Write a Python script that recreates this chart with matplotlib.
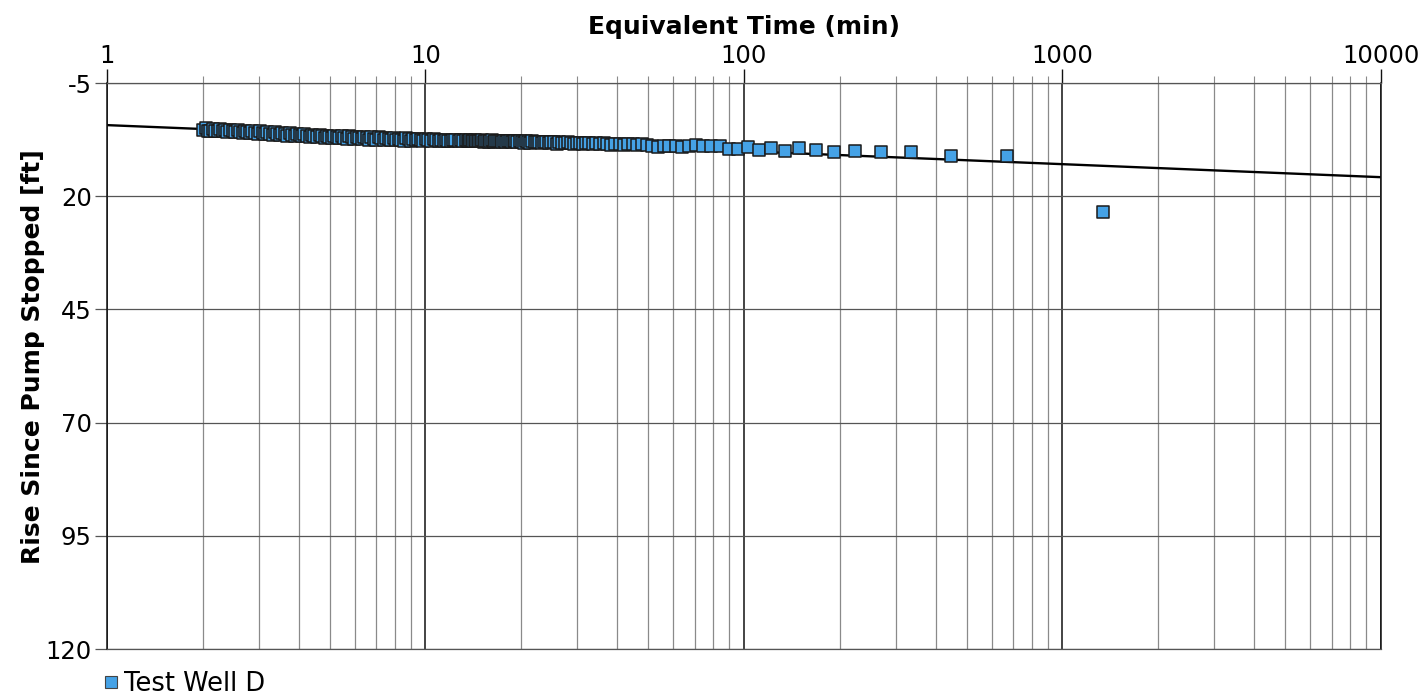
import matplotlib
matplotlib.use("Agg")
import matplotlib.pyplot as plt
from matplotlib.ticker import FixedLocator, LogLocator, NullFormatter, FixedFormatter
from matplotlib.lines import Line2D

# ---- data ----
x_title = "Equivalent Time (min)"
y_title = "Rise Since Pump Stopped [ft]"
series_name = "Test Well D"

x_ticks = [1, 10, 100, 1000, 10000]
x_tick_labels = ["1", "10", "100", "1000", "10000"]
y_ticks = [-5, 20, 45, 70, 95, 120]
y_tick_labels = ["-5", "20", "45", "70", "95", "120"]

# dense early part (te 2 .. 13)
time_early = [
    2.00, 2.04, 2.07, 2.11, 2.15, 2.19, 2.23, 2.27, 2.31, 2.35,
    2.39, 2.44, 2.48, 2.53, 2.57, 2.62, 2.67, 2.71, 2.76, 2.81,
    2.86, 2.92, 2.97, 3.02, 3.08, 3.13, 3.19, 3.25, 3.31, 3.37,
    3.43, 3.49, 3.55, 3.62, 3.68, 3.75, 3.82, 3.89, 3.96, 4.03,
    4.10, 4.17, 4.25, 4.33, 4.40, 4.48, 4.56, 4.65, 4.73, 4.82,
    4.90, 4.99, 5.08, 5.17, 5.27, 5.36, 5.46, 5.56, 5.66, 5.76,
    5.86, 5.97, 6.08, 6.19, 6.30, 6.41, 6.53, 6.64, 6.76, 6.89,
    7.01, 7.14, 7.27, 7.40, 7.53, 7.67, 7.81, 7.95, 8.09, 8.24,
    8.38, 8.54, 8.69, 8.85, 9.01, 9.17, 9.33, 9.50, 9.67, 9.85,
    10.02, 10.2, 10.4, 10.6, 10.8, 11.0, 11.2, 11.4, 11.6, 11.8,
    12.0, 12.2, 12.4, 12.7, 12.9, 13.1,
]
rise_early = [
    5.3, 5.0, 5.5, 5.6, 5.1, 5.6, 5.7, 5.2, 5.7, 5.4,
    5.8, 5.3, 5.7, 5.9, 5.4, 5.8, 6.0, 5.5, 5.9, 6.1,
    5.6, 6.0, 6.2, 5.7, 6.1, 6.3, 5.8, 6.2, 6.4, 5.9,
    6.2, 6.5, 6.0, 6.3, 6.6, 6.1, 6.4, 6.7, 6.2, 6.5,
    6.8, 6.3, 6.6, 6.9, 6.4, 6.7, 7.0, 6.5, 6.8, 7.1,
    6.6, 6.9, 7.2, 6.7, 7.0, 7.2, 6.8, 7.1, 7.3, 6.8,
    7.0, 7.4, 6.9, 7.1, 7.4, 6.9, 7.2, 7.5, 7.0, 7.3,
    7.5, 7.0, 7.2, 7.6, 7.1, 7.3, 7.6, 7.2, 7.5, 7.3,
    7.6, 7.7, 7.2, 7.4, 7.7, 7.3, 7.6, 7.4, 7.6, 7.8,
    7.4, 7.5, 7.7, 7.4, 7.6, 7.8, 7.5, 7.8, 7.5, 7.7,
    7.8, 7.5, 7.6, 7.8, 7.6, 7.7,
]

# later part (te 13.4 .. 1342)
time_late = [
    13.42, 13.56, 13.69, 13.84, 13.98, 14.13, 14.28, 14.43, 14.59, 14.75,
    14.91, 15.08, 15.25, 15.43, 15.60, 15.79, 15.98, 16.17, 16.37, 16.57,
    16.78, 16.99, 17.21, 17.43, 17.66, 17.89, 18.14, 18.38, 18.64, 18.90,
    19.17, 19.45, 19.74, 20.03, 20.33, 20.65, 20.97, 21.30, 21.65, 22.00,
    22.37, 22.75, 23.14, 23.54, 23.96, 24.40, 24.85, 25.32, 25.81, 26.31,
    26.84, 27.39, 27.96, 28.55, 29.17, 29.82, 30.50, 31.21, 31.95, 32.73,
    33.55, 34.41, 35.32, 36.27, 37.28, 38.34, 39.47, 40.67, 41.94, 43.29,
    44.73, 46.28, 47.93, 49.70, 51.62, 53.68, 55.92, 58.35, 61.00, 63.90,
    67.10, 70.63, 74.56, 78.94, 83.88, 89.47, 95.86, 103.2, 111.8, 122.0,
    134.2, 149.1, 167.8, 191.7, 223.7, 268.4, 335.5, 447.3, 671.0, 1342.0,
]
rise_late = [
    7.6, 7.8, 7.9, 7.5, 7.7, 7.9, 7.6, 7.7, 7.9, 7.7,
    7.8, 7.6, 8.0, 7.7, 7.8, 8.0, 7.8, 7.6, 8.0, 7.8,
    7.9, 7.8, 7.7, 8.0, 7.8, 8.1, 7.9, 7.8, 8.1, 7.9,
    7.8, 8.1, 7.9, 8.0, 8.2, 7.9, 8.0, 8.2, 7.9, 8.0,
    8.1, 8.0, 8.3, 8.0, 8.1, 8.3, 8.0, 8.1, 8.4, 8.1,
    8.2, 8.3, 8.1, 8.2, 8.4, 8.2, 8.3, 8.4, 8.2, 8.3,
    8.4, 8.3, 8.5, 8.3, 8.4, 8.6, 8.4, 8.5, 8.6, 8.5,
    8.5, 8.6, 8.5, 8.7, 8.85, 9.1, 8.9, 8.9, 9.0, 9.2,
    8.9, 8.7, 8.85, 9.0, 9.0, 9.6, 9.6, 9.2, 9.7, 9.35,
    9.95, 9.4, 9.7, 10.3, 10.1, 10.2, 10.3, 11.1, 11.1, 23.4,
]

# straight-line fit drawn through the data
fit_time = [1, 10000]
fit_rise = [4.3, 15.8]

# ---- figure ----
fig = plt.figure(figsize=(14.24, 6.94), dpi=100)
ax = fig.add_axes([0.0751, 0.0648, 0.8947, 0.8156])

ax.set_xscale("log")
ax.set_xlim(1, 10000)
ax.set_ylim(120, -5)

ax.xaxis.set_major_locator(FixedLocator(x_ticks))
ax.xaxis.set_major_formatter(FixedFormatter(x_tick_labels))
ax.xaxis.set_minor_locator(LogLocator(base=10, subs=range(2, 10), numticks=20))
ax.xaxis.set_minor_formatter(NullFormatter())
ax.yaxis.set_major_locator(FixedLocator(y_ticks))
ax.yaxis.set_major_formatter(FixedFormatter(y_tick_labels))

ax.grid(True, which="major", axis="x", color="#111111", linewidth=1.1, zorder=0)
ax.grid(True, which="minor", axis="x", color="#8a8a8a", linewidth=0.9, zorder=0)
ax.grid(True, which="major", axis="y", color="#555555", linewidth=0.9, zorder=0)
ax.set_axisbelow(True)

ax.xaxis.tick_top()
ax.xaxis.set_label_position("top")
ax.tick_params(axis="x", which="major", direction="out", length=10, width=1.0,
               color="#111111", labelsize=17.5, pad=1)
ax.tick_params(axis="x", which="minor", direction="out", length=5, width=0.8,
               color="#8a8a8a")
ax.tick_params(axis="y", which="major", direction="out", length=9, width=0.9,
               color="#555555", labelsize=17.5, pad=2)

for side in ["top", "bottom"]:
    ax.spines[side].set_color("#555555")
    ax.spines[side].set_linewidth(0.9)
for side in ["left", "right"]:
    ax.spines[side].set_color("#111111")
    ax.spines[side].set_linewidth(1.1)

ax.set_xlabel(x_title, fontsize=18, fontweight="bold", labelpad=7)
ax.set_ylabel(y_title, fontsize=18, fontweight="bold")
ax.yaxis.set_label_coords(-0.049, 0.516)

# fitted line (below markers)
ax.plot(fit_time, fit_rise, color="black", linewidth=1.7, zorder=2,
        solid_capstyle="butt")

# data
times = time_early + time_late
rises = rise_early + rise_late
ax.scatter(times, rises, marker="s", s=68, facecolor="#45a2e6",
           edgecolor="#1a1a1a", linewidth=1.1, zorder=3, clip_on=False)

handle = Line2D([], [], marker="s", linestyle="none", markersize=8,
                markerfacecolor="#45a2e6", markeredgecolor="#444444",
                markeredgewidth=0.8)
fig.legend([handle], [series_name], loc="lower left",
           bbox_to_anchor=(0.057, -0.03), frameon=False, fontsize=18.5,
           handletextpad=0.05, handlelength=0.9, borderpad=0.2)

fig.savefig("out.png", dpi=100, facecolor="white")
